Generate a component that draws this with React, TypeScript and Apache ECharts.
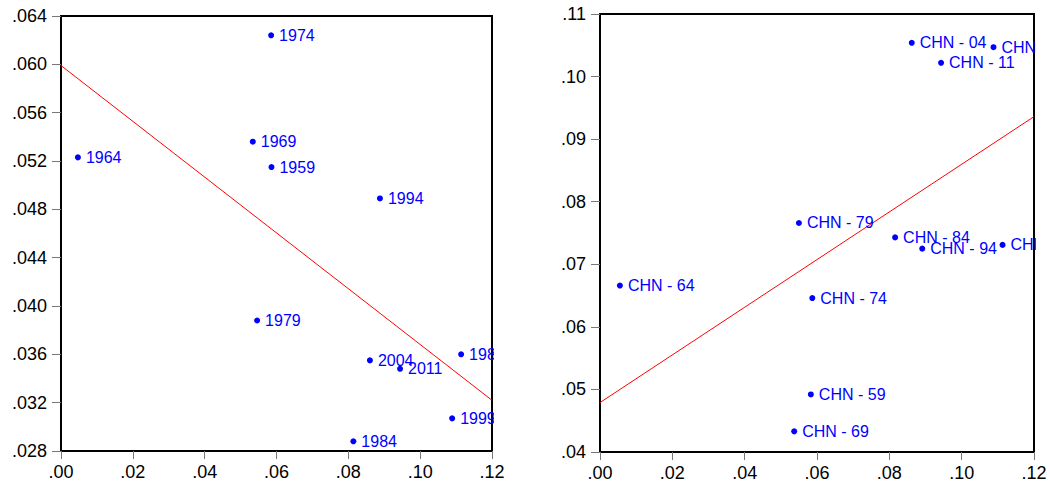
import React, { useEffect, useRef } from "react";
import * as echarts from "echarts";

// Left panel data
const leftLabels = ["1959", "1964", "1969", "1974", "1979", "1984", "1989", "1994", "1999", "2004", "2011"];
const leftX = [0.0586, 0.0047, 0.0534, 0.0585, 0.0546, 0.0814, 0.1114, 0.0888, 0.1089, 0.0860, 0.0944];
const leftY = [0.0515, 0.0523, 0.0536, 0.0624, 0.0388, 0.0288, 0.0360, 0.0489, 0.0307, 0.0355, 0.0348];
const leftFitX = [0, 0.12];
const leftFitY = [0.0599, 0.0322];

// Right panel data
const rightLabels = ["CHN - 59", "CHN - 64", "CHN - 69", "CHN - 74", "CHN - 79", "CHN - 84", "CHN - 89", "CHN - 94", "CHN - 99", "CHN - 04", "CHN - 11"];
const rightX = [0.0583, 0.0055, 0.0537, 0.0587, 0.0550, 0.0816, 0.1113, 0.0891, 0.1088, 0.0862, 0.0943];
const rightY = [0.0492, 0.0666, 0.0433, 0.0646, 0.0766, 0.0743, 0.0731, 0.0725, 0.1047, 0.1054, 0.1022];
const rightFitX = [0, 0.12];
const rightFitY = [0.0479, 0.0936];

const FONT = 'Arial, "Liberation Sans", sans-serif';

const fmt = (d: number) => (v: number) => v.toFixed(d).replace(/^0/, "").replace(/^-0/, "-");

export default function App() {
  const ref = useRef<HTMLDivElement>(null);
  useEffect(() => {
    if (!ref.current) return;
    const chart = echarts.init(ref.current, undefined, { renderer: "svg" });

    const xAxisBase = (gi: number) => ({
      type: "value",
      gridIndex: gi,
      min: 0,
      max: 0.12,
      interval: 0.02,
      axisLine: { show: false },
      axisTick: { show: true, length: 8, lineStyle: { color: "#777", width: 1 } },
      axisLabel: { color: "#000", fontSize: 18, fontFamily: FONT, margin: 12, formatter: fmt(2) },
      splitLine: { show: false },
    });

    const yAxisBase = (gi: number, min: number, max: number, interval: number, dec: number) => ({
      type: "value",
      gridIndex: gi,
      min,
      max,
      interval,
      axisLine: { show: false },
      axisTick: { show: true, length: 9, lineStyle: { color: "#777", width: 1 } },
      axisLabel: { color: "#000", fontSize: 18, fontFamily: FONT, margin: 14, formatter: fmt(dec) },
      splitLine: { show: false },
    });

    const scatter = (gi: number, xs: number[], ys: number[], labels: string[]) => ({
      type: "scatter",
      xAxisIndex: gi,
      yAxisIndex: gi,
      symbol: "circle",
      symbolSize: 6,
      itemStyle: { color: "#0000ff", opacity: 1 },
      data: xs.map((x, i) => ({ value: [x, ys[i]], name: labels[i] })),
      label: {
        show: true,
        position: "right",
        distance: 5,
        formatter: (p: any) => p.name,
        color: "#0000ff",
        opacity: 1,
        fontSize: 16,
        fontFamily: FONT,
      },
      z: 3,
    });

    const fit = (gi: number, xs: number[], ys: number[]) => ({
      type: "line",
      xAxisIndex: gi,
      yAxisIndex: gi,
      symbol: "none",
      lineStyle: { color: "#ff0000", width: 1, opacity: 1 },
      data: xs.map((x, i) => [x, ys[i]]),
      z: 2,
    });

    chart.setOption({
      animation: false,
      backgroundColor: "#fff",
      grid: [
        { left: 61, top: 16, width: 431, height: 435, show: true, borderColor: "#000", borderWidth: 2, backgroundColor: "transparent" },
        { left: 600, top: 14, width: 434, height: 438, show: true, borderColor: "#000", borderWidth: 2, backgroundColor: "transparent" },
      ],
      xAxis: [xAxisBase(0), xAxisBase(1)],
      yAxis: [yAxisBase(0, 0.028, 0.064, 0.004, 3), yAxisBase(1, 0.04, 0.11, 0.01, 2)],
      series: [
        fit(0, leftFitX, leftFitY),
        scatter(0, leftX, leftY, leftLabels),
        fit(1, rightFitX, rightFitY),
        scatter(1, rightX, rightY, rightLabels),
      ],
      graphic: [
        { type: "rect", z: 100, shape: { x: 494, y: 0, width: 52, height: 450 }, style: { fill: "#fff" } },
        { type: "rect", z: 100, shape: { x: 1036, y: 0, width: 20, height: 451 }, style: { fill: "#fff" } },
      ],
    });
    return () => chart.dispose();
  }, []);
  return <div ref={ref} style={{ position: "absolute", left: 0, top: 0, width: 1050, height: 491 }} />;
}
